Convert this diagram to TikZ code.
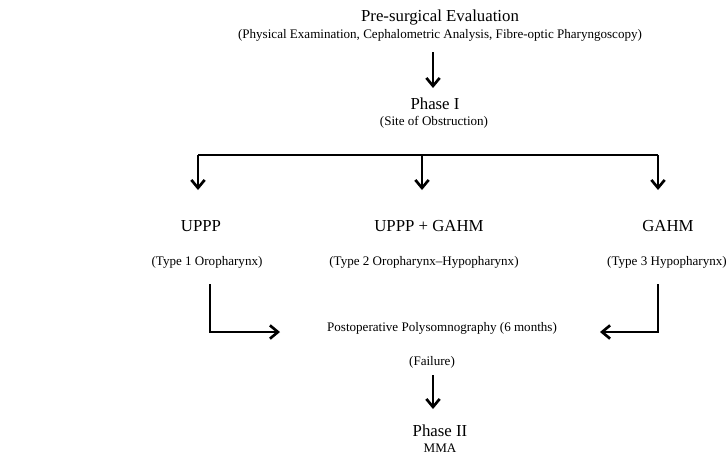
\documentclass[tikz,border=0pt]{standalone}
\usepackage{fontspec}
\setmainfont{Liberation Serif}
\usetikzlibrary{arrows.meta, positioning}

\tikzset{
  title/.style={font=\fontsize{12.6}{14}\selectfont, inner sep=0pt},
  sub/.style={font=\fontsize{9.8}{11}\selectfont, inner sep=0pt},
  flow/.style={line width=2pt, -{Straight Barb[length=6pt, width=10pt]}},
  bar/.style={line width=1.5pt}
}

\begin{document}
\begin{tikzpicture}[x=0.75pt, y=-0.75pt]
    \useasboundingbox (0,0) rectangle (727,455);

    % Danh gia truoc phau thuat
    \node[title] (eval) at (440,17) {Pre-surgical Evaluation};
    \node[sub] (evalsub) at (440,35) {(Physical Examination, Cephalometric Analysis, Fibre-optic Pharyngoscopy)};

    % Giai doan I
    \node[title] (phase1) at (435,104) {Phase I};
    \node[sub] (phase1sub) at (434,122) {(Site of Obstruction)};
    \coordinate (a1) at (433,52);
    \coordinate (b1) at (433,88);
    \draw[flow] (a1) -- (b1);

    % Thanh ngang va ba nhanh
    \coordinate (barL) at (198,155);
    \coordinate (barM) at (422,155);
    \coordinate (barR) at (658,155);
    \coordinate (tipL) at (198,190);
    \coordinate (tipM) at (422,190);
    \coordinate (tipR) at (658,190);
    \draw[bar] (barL) -- (barR);
    \draw[flow] (barL) -- (tipL);
    \draw[flow] (barM) -- (tipM);
    \draw[flow] (barR) -- (tipR);

    % Ba loai
    \node[title] (uppp) at (201,226) {UPPP};
    \node[title] (both) at (429,226) {UPPP + GAHM};
    \node[title] (gahm) at (668,226) {GAHM};
    \node[sub] (type1) at (207,262) {(Type 1 Oropharynx)};
    \node[sub] (type2) at (424,262) {(Type 2 Oropharynx--Hypopharynx)};
    \node[sub] (type3) at (667,262) {(Type 3 Hypopharynx)};

    % Da ky giac ngu sau mo
    \node[sub] (psg) at (442,328) {Postoperative Polysomnography (6 months)};
    \node[sub] (fail) at (432,362) {(Failure)};
    \coordinate (l1) at (210,284);
    \coordinate (l2) at (280,332);
    \coordinate (r1) at (658,284);
    \coordinate (r2) at (600,332);
    \draw[flow] (l1) |- (l2);
    \draw[flow] (r1) |- (r2);

    % Giai doan II
    \coordinate (a2) at (433,375);
    \coordinate (b2) at (433,409);
    \draw[flow] (a2) -- (b2);
    \node[title] (phase2) at (440,431) {Phase II};
    \node[sub] (mma) at (440,448) {MMA};
\end{tikzpicture}
\end{document}
